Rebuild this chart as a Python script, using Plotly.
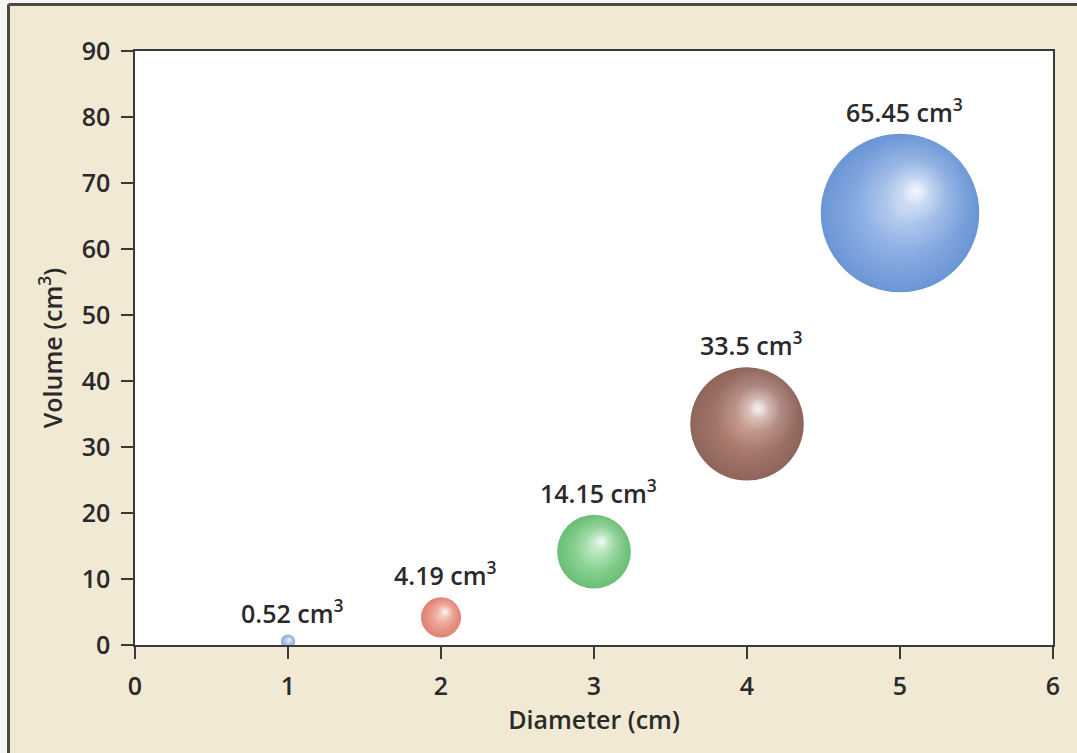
import plotly.graph_objects as go

# Sphere diameter (cm) and the resulting volume (cm^3)
diameters = [1, 2, 3, 4, 5]
volumes = [0.52, 4.19, 14.15, 33.5, 65.45]
x_ticks = [0, 1, 2, 3, 4, 5, 6]
y_ticks = [0, 10, 20, 30, 40, 50, 60, 70, 80, 90]

# Shading colours per sphere: rim colour and body colour
rim_colors = ["#5a82d0", "#d24c38", "#2aa23a", "#5e2214", "#2a68c4"]
body_colors = ["#a8c0ee", "#f09482", "#80d88c", "#a45a46", "#88ade8"]

W, H = 1077, 753
MARGIN = dict(l=135, r=24, t=51, b=108)
X_RANGE = [0, 6]
Y_RANGE = [0, 90]
PX_PER_X = (W - MARGIN["l"] - MARGIN["r"]) / (X_RANGE[1] - X_RANGE[0])
PX_PER_Y = (H - MARGIN["t"] - MARGIN["b"]) / (Y_RANGE[1] - Y_RANGE[0])

# Marker area proportional to volume
RADIUS_PER_SQRT_VOL = 9.8
SIZEREF = 1 / (2 * RADIUS_PER_SQRT_VOL ** 2)

TEXT = "#2a2a2a"
FONT = "Open Sans"
FSIZE = 25
AXIS = "#3a3a3a"


def radius_px(v):
    return RADIUS_PER_SQRT_VOL * v ** 0.5


fig = go.Figure()

for d, v, rim, body in zip(diameters, volumes, rim_colors, body_colors):
    r = radius_px(v)
    # sphere body
    fig.add_trace(go.Scatter(
        x=[d], y=[v], mode="markers", hoverinfo="skip", showlegend=False,
        marker=dict(size=[v], sizemode="area", sizeref=SIZEREF, color=rim,
                    gradient=dict(type="radial", color=body),
                    line=dict(width=0)),
    ))
    # specular highlight, shifted toward the upper right
    hx = d + 0.2 * r / PX_PER_X
    hy = v + 0.27 * r / PX_PER_Y
    for k, alpha in [(0.75, 0.5), (0.4, 0.75), (0.18, 0.85)]:
        fig.add_trace(go.Scatter(
            x=[hx], y=[hy], mode="markers", hoverinfo="skip", showlegend=False,
            marker=dict(size=[v * k * k], sizemode="area", sizeref=SIZEREF,
                        color="rgba(255,255,255,0)",
                        gradient=dict(type="radial",
                                      color=f"rgba(255,255,255,{alpha})"),
                        line=dict(width=0)),
        ))
    fig.add_annotation(
        x=d, y=v, text=f"{v} cm<sup>3</sup>", showarrow=False,
        yanchor="bottom", yshift=r + 3, xshift=4,
        font=dict(family=FONT, size=FSIZE, color=TEXT, weight=600),
    )

axis_common = dict(
    showline=True, linecolor=AXIS, linewidth=1.5, mirror=True,
    ticks="outside", ticklen=12, tickwidth=1.5, tickcolor=AXIS,
    showgrid=False, zeroline=False,
    tickfont=dict(family=FONT, size=FSIZE, color=TEXT, weight=600),
    ticklabelstandoff=6,
)

fig.update_xaxes(range=X_RANGE, tickvals=x_ticks,
                 title=dict(text="Diameter (cm)", standoff=8,
                            font=dict(family=FONT, size=FSIZE, color=TEXT, weight=600)),
                 **axis_common)
fig.update_yaxes(range=Y_RANGE, tickvals=y_ticks,
                 title=dict(text="Volume (cm<sup>3</sup>)", standoff=12,
                            font=dict(family=FONT, size=FSIZE, color=TEXT, weight=600)),
                 **axis_common)

# Panel frame: dark rule along the top and left edges
left_x = (8.5 - MARGIN["l"]) / (W - MARGIN["l"] - MARGIN["r"])
top_y = 1 + (MARGIN["t"] - 4.5) / (H - MARGIN["t"] - MARGIN["b"])
fig.add_shape(type="rect", xref="paper", yref="paper", x0=-0.3, x1=1.3,
              y0=top_y, y1=1.3, fillcolor="#f6f5f1", line=dict(width=0), layer="below")
fig.add_shape(type="rect", xref="paper", yref="paper", x0=-0.3, x1=left_x,
              y0=-0.3, y1=1.3, fillcolor="#f6f5f1", line=dict(width=0), layer="below")
fig.add_shape(type="line", xref="paper", yref="paper", x0=left_x, x1=1.3,
              y0=top_y, y1=top_y, line=dict(color="#4a4a44", width=3))
fig.add_shape(type="line", xref="paper", yref="paper", x0=left_x, x1=left_x,
              y0=-0.3, y1=top_y, line=dict(color="#4a4a44", width=3))

fig.update_layout(
    width=W, height=H, margin=MARGIN,
    paper_bgcolor="#f1e9d4", plot_bgcolor="#ffffff",
    font=dict(family=FONT, color=TEXT),
)

fig.write_html("out.html")
